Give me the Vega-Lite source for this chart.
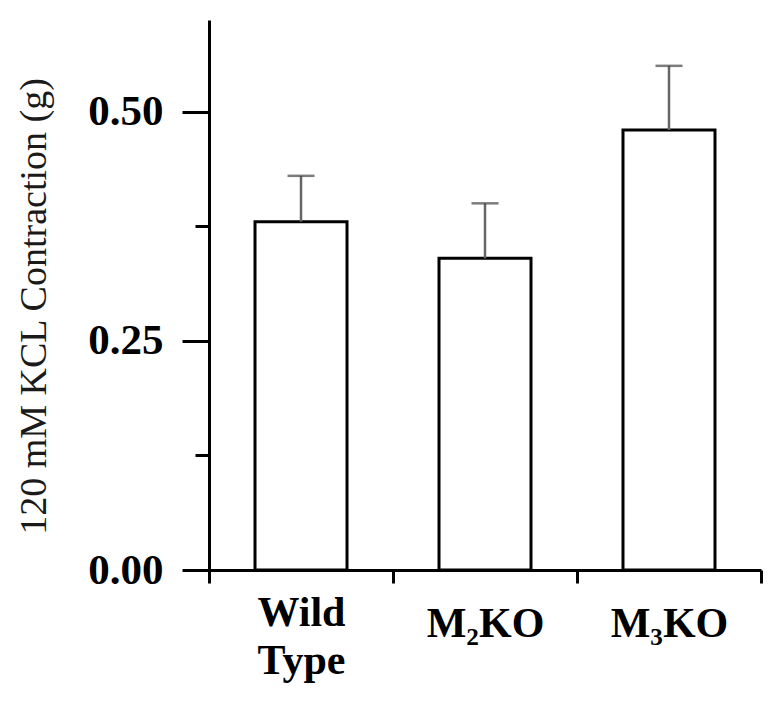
{
  "$schema": "https://vega.github.io/schema/vega-lite/v6.json",
  "width": 578,
  "height": 550,
  "autosize": {"type": "none"},
  "padding": {"left": 183, "top": 20, "right": 21, "bottom": 139},
  "background": "white",
  "config": {
    "view": {"stroke": null},
    "axis": {
      "domainColor": "black",
      "tickColor": "black",
      "domainWidth": 3,
      "tickWidth": 3,
      "labelColor": "black",
      "titleColor": "#1a1a1a",
      "labelFont": "Liberation Serif",
      "titleFont": "Liberation Serif",
      "grid": false
    }
  },
  "data": {
    "values": [
      {"group": "Wild Type", "mean": 0.38, "upper": 0.43},
      {"group": "M₂KO", "mean": 0.34, "upper": 0.40},
      {"group": "M₃KO", "mean": 0.48, "upper": 0.55}
    ]
  },
  "encoding": {
    "x": {
      "field": "group",
      "type": "nominal",
      "sort": null,
      "scale": {"paddingInner": 0, "paddingOuter": 0.0707, "align": 1},
      "axis": {
        "title": null,
        "labelAngle": 0,
        "tickBand": "extent",
        "tickSize": 13,
        "labelFontSize": 42,
        "labelFontWeight": "bold",
        "labelBaseline": "alphabetic",
        "labelLineHeight": 48,
        "labelExpr": "split(datum.label, ' ')",
        "labelPadding": {"condition": {"test": "datum.value == 'Wild Type'", "value": 42}, "value": 53}
      }
    }
  },
  "layer": [
    {
      "mark": {"type": "bar", "fill": "white", "stroke": "black", "strokeWidth": 3, "width": {"band": 0.5}},
      "encoding": {
        "y": {
          "field": "mean",
          "type": "quantitative",
          "title": "120 mM KCL Contraction (g)",
          "scale": {"domain": [0, 0.6], "nice": false},
          "axis": {
            "values": [0, 0.125, 0.25, 0.375, 0.5],
            "format": ".2f",
            "labelExpr": "(datum.value * 1000) % 250 == 0 ? datum.label : ''",
            "tickSize": {"condition": {"test": "(datum.value * 1000) % 250 != 0", "value": 14}, "value": 27},
            "offset": -26,
            "labelFontSize": 43,
            "labelFontWeight": "bold",
            "labelPadding": 19,
            "titleFontSize": 38,
            "titleFontWeight": "normal",
            "titlePadding": 34,
            "titleY": 286
          }
        }
      }
    },
    {
      "mark": {"type": "rule", "color": "#666666", "strokeWidth": 2.5},
      "encoding": {
        "y": {"field": "mean", "type": "quantitative", "title": "120 mM KCL Contraction (g)"},
        "y2": {"field": "upper"}
      }
    },
    {
      "mark": {"type": "tick", "color": "#444444", "thickness": 2.5, "size": 27},
      "encoding": {
        "y": {"field": "upper", "type": "quantitative", "title": "120 mM KCL Contraction (g)"}
      }
    }
  ]
}
